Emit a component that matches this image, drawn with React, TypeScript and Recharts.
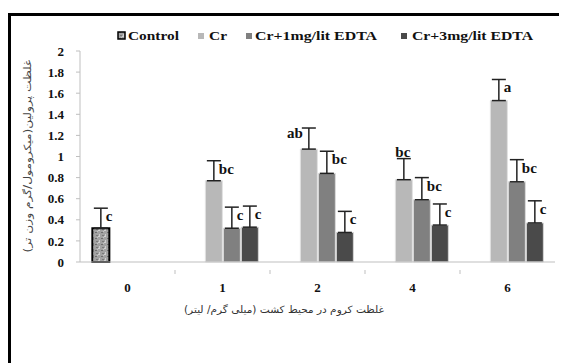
import { BarChart, Bar, XAxis, YAxis, ErrorBar, LabelList, Legend } from "recharts";

const categories = ["0", "1", "2", "4", "6"];
const yTicks = [0, 0.2, 0.4, 0.6, 0.8, 1, 1.2, 1.4, 1.6, 1.8, 2];

const control = [0.32, null, null, null, null];
const controlErr = [0.19, null, null, null, null];
const controlLetter = ["c", "", "", "", ""];

const cr = [null, 0.77, 1.07, 0.78, 1.53];
const crErr = [null, 0.19, 0.2, 0.2, 0.2];
const crLetter = ["", "bc", "ab", "bc", "a"];

const cr1 = [null, 0.32, 0.84, 0.59, 0.76];
const cr1Err = [null, 0.2, 0.21, 0.21, 0.21];
const cr1Letter = ["", "c", "bc", "bc", "bc"];

const cr3 = [null, 0.33, 0.28, 0.35, 0.37];
const cr3Err = [null, 0.2, 0.2, 0.2, 0.21];
const cr3Letter = ["", "c", "c", "c", "c"];

const seriesNames = ["Control", "Cr", "Cr+1mg/lit EDTA", "Cr+3mg/lit EDTA"];

const yLabel = "غلظت پرولین(میکرومول/گرم وزن تر)";
const xLabel = "غلظت کروم در محیط کشت (میلی گرم/ لیتر)";

const data = categories.map((c, i) => ({
  cat: c,
  control: control[i],
  controlErr: controlErr[i] == null ? null : [0, controlErr[i]],
  cr: cr[i],
  crErr: crErr[i] == null ? null : [0, crErr[i]],
  cr1: cr1[i],
  cr1Err: cr1Err[i] == null ? null : [0, cr1Err[i]],
  cr3: cr3[i],
  cr3Err: cr3Err[i] == null ? null : [0, cr3Err[i]],
}));

// where the letter sits relative to the error cap
const letterSide: Record<string, string> = { "1-2": "left", "1-3": "top" };

const serif = "'Liberation Serif', 'Times New Roman', serif";

function makeLetter(letters: string[], errs: (number | null)[], vals: (number | null)[], s: number) {
  return (p: any) => {
    const i = categories.indexOf(String(p.value));
    const letter = letters[i];
    const v = vals[i];
    const e = errs[i];
    if (!letter || v == null || e == null) return null;
    const perUnit = p.height / v;
    const cx = p.x + p.width / 2;
    const top = p.y - e * perUnit;
    const side = letterSide[`${s}-${i}`] || "right";
    let tx = cx + 5;
    let ty = top + 13;
    let anchor = "start";
    if (side === "left") {
      tx = cx - 6;
      anchor = "end";
      ty = top + 10;
    } else if (side === "top") {
      tx = cx - 1;
      anchor = "middle";
      ty = top - 2;
    }
    return (
      <text x={tx} y={ty} textAnchor={anchor} fontFamily={serif} fontWeight={700} fontSize={15} fill="#111">
        {letter}
      </text>
    );
  };
}

function XTick(props: any) {
  const { x, y, payload, index } = props;
  const half = payload.offset || 47.5;
  return (
    <g>
      <text x={x} y={y + 22} textAnchor="middle" fontFamily={serif} fontWeight={700} fontSize={13} fill="#111">
        {payload.value}
      </text>
      {index < categories.length - 1 && (
        <line x1={x + half} x2={x + half} y1={y} y2={y + 4} stroke="#bfbfbf" />
      )}
    </g>
  );
}

function LegendBox() {
  const items = [
    { mx: 110, tx: 120, tw: 51, fill: "url(#ctrlTex)", stroke: "#000" },
    { mx: 190, tx: 201, tw: 18, fill: "#b8b8b8", stroke: "none" },
    { mx: 238, tx: 247, tw: 122, fill: "#808080", stroke: "none" },
    { mx: 393, tx: 404, tw: 121, fill: "#4a4a4a", stroke: "none" },
  ];
  return (
    <svg width={559} height={24} style={{ display: "block" }}>
      {items.map((it, i) => (
        <g key={i}>
          <rect
            x={it.mx}
            y={i === 0 ? 8 : 9}
            width={i === 0 ? 7 : 6}
            height={i === 0 ? 7 : 6}
            fill={it.fill}
            stroke={it.stroke}
            strokeWidth={1.5}
          />
          <text
            x={it.tx}
            y={16}
            fontFamily={serif}
            fontWeight={700}
            fontSize={13}
            fill="#111"
            textLength={it.tw}
            lengthAdjust="spacingAndGlyphs"
          >
            {seriesNames[i]}
          </text>
        </g>
      ))}
    </svg>
  );
}

export default function App() {
  return (
    <div style={{ position: "relative", width: 559, height: 355, overflow: "hidden" }}>
      <div
        style={{
          position: "absolute",
          left: 0,
          top: 5,
          width: 620,
          height: 420,
          borderTop: "3px solid #000",
          borderLeft: "3px solid #000",
        }}
      />
      <div style={{ position: "absolute", left: 0, top: 0 }}>
        <BarChart
          width={559}
          height={355}
          data={data}
          margin={{ top: 43, right: 12, bottom: 51, left: 0 }}
          barCategoryGap="13%"
          barGap={1}
        >
          <defs>
            <pattern id="ctrlTex" width="6" height="6" patternUnits="userSpaceOnUse">
              <rect width="6" height="6" fill="#a2a2a2" />
              <rect x="0" y="0" width="2" height="1" fill="#d0d0d0" />
              <rect x="3" y="2" width="2" height="1" fill="#6e6e6e" />
              <rect x="1" y="4" width="1" height="2" fill="#cfcfcf" />
              <rect x="4" y="5" width="2" height="1" fill="#7a7a7a" />
              <rect x="5" y="1" width="1" height="1" fill="#c4c4c4" />
            </pattern>
          </defs>
          <Legend
            layout="vertical"
            align="center"
            verticalAlign="middle"
            wrapperStyle={{ top: 16, left: 0, width: 559 }}
            content={() => <LegendBox />}
          />
          <XAxis
            dataKey="cat"
            height={50}
            axisLine={{ stroke: "#bfbfbf" }}
            tickLine={false}
            tick={<XTick />}
            interval={0}
            label={{
              content: () => (
                <text
                  x={276}
                  y={305}
                  textAnchor="middle"
                  fontFamily="'DejaVu Sans', sans-serif"
                  fontSize={10}
                  fill="#333"
                  textLength={200}
                  lengthAdjust="spacingAndGlyphs"
                >
                  {xLabel}
                </text>
              ),
            }}
          />
          <YAxis
            width={72}
            domain={[0, 2]}
            ticks={yTicks}
            interval={0}
            axisLine={{ stroke: "#bfbfbf" }}
            tickLine={{ stroke: "#bfbfbf" }}
            tickSize={4}
            tickMargin={12}
            tick={{ fontFamily: serif, fontWeight: 700, fontSize: 13, fill: "#111" }}
            label={{
              content: () => (
                <text
                  x={0}
                  y={0}
                  transform="translate(23 148) rotate(-90)"
                  textAnchor="middle"
                  fontFamily="'DejaVu Sans', sans-serif"
                  fontSize={10}
                  fill="#444"
                  textLength={193}
                  lengthAdjust="spacingAndGlyphs"
                >
                  {yLabel}
                </text>
              ),
            }}
          />
          <Bar dataKey="control" fill="url(#ctrlTex)" stroke="#000" strokeWidth={2} isAnimationActive={false}>
            <ErrorBar dataKey="controlErr" direction="y" width={7} stroke="#222" strokeWidth={1.5} />
            <LabelList dataKey="cat" content={makeLetter(controlLetter, controlErr, control, 0)} />
          </Bar>
          <Bar dataKey="cr" fill="#b8b8b8" stroke="#e2e2e2" strokeWidth={1} isAnimationActive={false}>
            <ErrorBar dataKey="crErr" direction="y" width={7} stroke="#222" strokeWidth={1.5} />
            <LabelList dataKey="cat" content={makeLetter(crLetter, crErr, cr, 1)} />
          </Bar>
          <Bar dataKey="cr1" fill="#808080" stroke="#dcdcdc" strokeWidth={1} isAnimationActive={false}>
            <ErrorBar dataKey="cr1Err" direction="y" width={7} stroke="#222" strokeWidth={1.5} />
            <LabelList dataKey="cat" content={makeLetter(cr1Letter, cr1Err, cr1, 2)} />
          </Bar>
          <Bar dataKey="cr3" fill="#4a4a4a" stroke="#d6d6d6" strokeWidth={1} isAnimationActive={false}>
            <ErrorBar dataKey="cr3Err" direction="y" width={7} stroke="#222" strokeWidth={1.5} />
            <LabelList dataKey="cat" content={makeLetter(cr3Letter, cr3Err, cr3, 3)} />
          </Bar>
        </BarChart>
      </div>
    </div>
  );
}
